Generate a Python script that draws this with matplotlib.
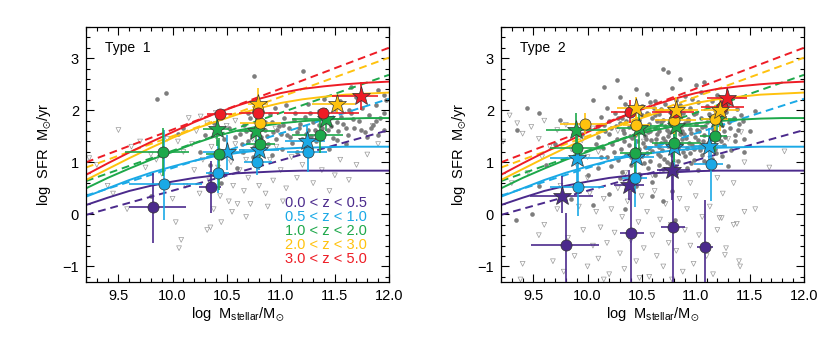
import numpy as np
import matplotlib.pyplot as plt
from matplotlib.ticker import MultipleLocator

plt.rcParams['font.family'] = ['Liberation Sans', 'DejaVu Sans']
plt.rcParams['mathtext.default'] = 'regular'

# ----- redshift bins ---------
zbins = ['0.0 < z < 0.5', '0.5 < z < 1.0', '1.0 < z < 2.0', '2.0 < z < 3.0', '3.0 < z < 5.0']
zcolors = ['#4B2A8C', '#1AA9E6', '#1DA84A', '#FFC20E', '#EE1C25']

# ----- main sequence curves -----------------------------
mass_grid = [9.2, 9.4, 9.6, 9.8, 10.0, 10.2, 10.4, 10.6, 10.8, 11.0, 11.2, 11.4, 11.6, 11.8, 12.0]
ms_solid = [
    [0.18, 0.32, 0.45, 0.55, 0.63, 0.70, 0.75, 0.79, 0.81, 0.83, 0.84, 0.84, 0.84, 0.84, 0.84],
    [0.34, 0.50, 0.66, 0.80, 0.92, 1.03, 1.12, 1.18, 1.23, 1.26, 1.28, 1.29, 1.30, 1.30, 1.30],
    [0.50, 0.70, 0.88, 1.05, 1.20, 1.36, 1.50, 1.61, 1.69, 1.75, 1.79, 1.82, 1.84, 1.85, 1.85],
    [0.66, 0.87, 1.08, 1.28, 1.47, 1.64, 1.78, 1.92, 2.04, 2.14, 2.21, 2.26, 2.30, 2.32, 2.34],
    [0.76, 0.98, 1.19, 1.39, 1.58, 1.77, 1.94, 2.09, 2.22, 2.33, 2.41, 2.46, 2.50, 2.53, 2.55],
]
dash_x = [9.2, 12.0]
ms_dashed = [[-0.01, 1.62], [0.36, 2.22], [0.64, 2.68], [0.90, 3.01], [1.00, 3.20]]

# ----- stacked points: (zbin, marker, x, y, xlo, xhi, ylo, yhi) ---------
pts_type1 = [
    (0, 'o', 9.82, 0.14, 9.60, 10.12, -0.54, 0.79),
    (0, 'o', 10.36, 0.52, 10.24, 10.45, 0.02, 1.02),
    (1, 'o', 9.92, 0.59, 9.60, 10.27, -0.10, 1.62),
    (1, 'o', 10.42, 0.80, 10.31, 10.52, 0.41, 1.43),
    (1, 'o', 10.78, 1.01, 10.66, 10.92, 0.75, 1.35),
    (1, 'o', 11.25, 1.20, 11.06, 11.43, 0.82, 1.59),
    (1, '*', 10.50, 1.19, 10.28, 10.66, 0.86, 1.53),
    (1, '*', 10.80, 1.23, 10.61, 10.98, 0.86, 1.50),
    (1, '*', 11.24, 1.41, 11.04, 11.41, 1.15, 1.70),
    (2, 'o', 9.91, 1.19, 9.56, 10.15, 0.73, 1.66),
    (2, 'o', 10.43, 1.16, 10.31, 10.54, 0.47, 1.46),
    (2, 'o', 10.81, 1.35, 10.68, 10.95, 1.10, 1.60),
    (2, 'o', 11.36, 1.53, 11.10, 11.58, 1.18, 1.94),
    (2, '*', 10.41, 1.64, 10.28, 10.52, 1.31, 1.91),
    (2, '*', 10.77, 1.60, 10.60, 10.95, 1.35, 1.85),
    (2, '*', 11.42, 1.84, 11.10, 11.67, 1.60, 2.05),
    (3, 'o', 10.81, 1.76, 10.62, 11.00, 1.55, 1.90),
    (3, '*', 10.79, 2.12, 10.70, 10.88, 1.78, 2.42),
    (3, '*', 11.52, 2.12, 11.29, 11.69, 1.95, 2.30),
    (4, 'o', 10.44, 1.92, 10.32, 10.55, 1.85, 2.00),
    (4, 'o', 10.79, 1.95, 10.61, 10.98, 1.80, 2.10),
    (4, 'o', 11.39, 1.95, 11.03, 11.72, 1.83, 2.05),
    (4, '*', 11.74, 2.27, 11.47, 11.90, 2.01, 2.55),
]
pts_type2 = [
    (0, 'o', 9.80, -0.58, 9.48, 10.11, -2.0, 0.02),
    (0, 'o', 10.40, -0.35, 10.30, 10.52, -2.0, 0.44),
    (0, 'o', 10.79, -0.25, 10.68, 10.90, -2.0, 0.89),
    (0, 'o', 11.09, -0.63, 11.01, 11.16, -2.0, 0.28),
    (0, '*', 9.76, 0.36, 9.47, 10.05, 0.02, 0.73),
    (0, '*', 10.38, 0.57, 10.24, 10.52, 0.28, 0.86),
    (0, '*', 10.78, 0.85, 10.64, 10.95, 0.28, 1.37),
    (1, 'o', 9.91, 0.52, 9.65, 10.15, -0.04, 1.11),
    (1, 'o', 10.44, 0.70, 10.32, 10.55, 0.15, 1.37),
    (1, 'o', 11.14, 0.97, 10.98, 11.25, 0.25, 1.56),
    (1, '*', 9.90, 1.09, 9.65, 10.18, 0.54, 1.56),
    (1, '*', 10.45, 1.11, 10.24, 10.61, 0.70, 1.45),
    (1, '*', 10.80, 1.30, 10.55, 11.10, 0.90, 1.60),
    (1, '*', 11.12, 1.32, 10.98, 11.29, 1.00, 1.65),
    (2, 'o', 9.90, 1.28, 9.65, 10.16, 1.00, 1.55),
    (2, 'o', 10.44, 1.17, 10.30, 10.60, 0.80, 1.50),
    (2, 'o', 10.80, 1.37, 10.60, 11.05, 1.00, 1.70),
    (2, 'o', 11.18, 1.50, 11.04, 11.29, 1.20, 1.80),
    (2, '*', 9.89, 1.63, 9.62, 10.18, 1.24, 1.94),
    (2, '*', 10.48, 1.65, 10.27, 10.67, 1.20, 2.00),
    (2, '*', 10.82, 1.70, 10.55, 11.10, 1.40, 2.00),
    (2, '*', 11.20, 1.83, 11.04, 11.38, 1.50, 2.10),
    (3, 'o', 9.98, 1.74, 9.75, 10.18, 1.55, 1.95),
    (3, 'o', 10.45, 1.72, 10.33, 10.58, 1.50, 1.90),
    (3, 'o', 10.80, 1.81, 10.62, 11.00, 1.55, 2.00),
    (3, 'o', 11.18, 1.84, 11.05, 11.30, 1.50, 2.10),
    (4, 'o', 10.39, 1.96, 10.22, 10.48, 1.75, 2.20),
    (4, 'o', 10.81, 1.97, 10.60, 10.98, 1.85, 2.10),
    (4, 'o', 11.24, 2.06, 11.05, 11.45, 1.90, 2.20),
    (3, '*', 10.45, 2.04, 10.27, 10.64, 1.80, 2.25),
    (3, '*', 10.82, 2.01, 10.62, 11.02, 1.75, 2.25),
    (3, '*', 11.22, 2.01, 11.05, 11.40, 1.60, 2.30),
    (4, '*', 11.29, 2.23, 11.10, 11.47, 2.00, 2.45),
]

# ----- individual sources (gray dots = detections, triangles = upper limits) ---------
det_type1 = [
    (10.62, 1.55), (10.66, 1.72), (10.70, 1.40), (10.72, 1.85), (10.75, 1.30), (10.78, 1.62),
    (10.82, 1.48), (10.85, 1.78), (10.88, 1.35), (10.90, 1.92), (10.93, 1.58), (10.96, 1.45),
    (10.98, 1.70), (11.01, 1.25), (11.03, 1.85), (11.06, 1.52), (11.08, 1.66), (11.10, 1.38),
    (11.13, 1.95), (11.15, 1.58), (11.18, 1.74), (11.20, 1.45), (11.22, 1.88), (11.25, 1.62),
    (11.28, 1.50), (11.30, 1.78), (11.33, 1.40), (11.35, 1.98), (11.38, 1.66), (11.40, 1.55),
    (11.43, 1.82), (11.46, 1.70), (11.48, 1.46), (11.50, 2.02), (11.53, 1.60), (11.56, 1.88),
    (11.58, 1.74), (11.62, 1.52), (11.65, 1.95), (11.68, 1.66), (11.72, 1.80), (11.75, 2.05),
    (11.78, 1.58), (11.82, 1.90), (11.85, 1.72), (11.88, 2.10), (11.92, 1.85), (11.95, 1.62),
    (11.97, 2.20), (11.70, 2.25), (11.55, 2.18), (11.40, 2.22), (11.25, 2.12), (11.05, 2.10),
    (10.95, 2.05), (10.80, 2.00), (10.70, 1.95), (11.60, 1.35), (11.45, 1.25), (11.15, 1.20),
    (10.92, 1.15), (10.85, 1.62), (11.00, 1.55), (11.12, 1.82), (11.35, 1.72), (10.45, 1.85),
    (10.38, 1.75), (10.52, 1.65), (10.58, 1.48), (10.30, 1.52), (10.48, 1.45), (10.10, 1.66),
    (10.05, 1.55), (10.25, 1.20), (10.35, 0.95), (9.86, 2.22), (9.94, 2.33), (10.75, 2.66),
    (11.21, 2.76), (11.65, 2.45), (11.90, 2.38), (10.35, 0.80), (9.80, 0.35), (10.45, 0.60),
    (10.60, 0.90), (11.95, 2.30), (10.65, 1.20), (10.74, 1.10), (11.52, 1.42), (11.80, 1.48),
    (10.64, 1.35), (10.68, 1.60), (10.73, 1.52), (10.80, 1.38), (10.87, 1.50), (10.97, 1.62),
    (11.02, 1.72), (11.09, 1.48), (11.17, 1.66), (11.23, 1.55), (11.32, 1.62), (11.37, 1.85),
    (11.44, 1.62), (11.52, 1.78), (11.60, 1.65), (11.67, 1.84), (11.74, 1.62), (11.83, 1.66),
    (11.90, 1.52), (11.95, 1.95), (11.88, 1.80), (11.63, 2.00), (11.27, 1.95), (10.92, 1.78),
]
lim_type1 = [
    (9.23, 1.08), (9.30, 0.95), (9.40, 0.55), (9.50, 1.62), (9.62, 1.30), (9.70, 1.40),
    (9.75, 0.90), (9.58, 0.10), (9.85, 1.05), (9.90, 0.78), (9.95, 1.45), (10.00, 0.30),
    (10.03, -0.15), (10.06, -0.65), (10.08, -0.49), (10.10, 1.20), (10.12, 0.55), (10.15, 1.85),
    (10.18, 1.35), (10.20, 0.85), (10.22, 1.60), (10.25, 0.40), (10.28, 1.05), (10.32, -0.30),
    (10.32, 1.75), (10.34, 0.65), (10.36, 1.30), (10.38, 0.10), (10.40, 1.50), (10.42, 0.90),
    (10.44, 0.35), (10.46, 1.15), (10.48, 0.75), (10.50, 1.70), (10.52, 0.25), (10.54, 1.00),
    (10.56, 0.55), (10.58, 1.35), (10.60, 0.20), (10.62, 0.85), (10.64, 1.20), (10.66, 0.45),
    (10.68, 1.05), (10.70, 0.70), (10.72, 0.20), (10.74, 1.45), (10.77, 0.95), (10.80, 0.55),
    (10.83, 1.25), (10.86, 0.40), (10.90, 1.05), (10.93, 0.65), (10.96, 1.30), (11.00, 0.85),
    (11.05, 0.50), (11.10, 1.10), (11.15, 0.70), (11.20, 0.95), (11.25, 1.25), (11.30, 0.60),
    (11.38, 0.85), (11.45, 0.45), (11.55, 1.05), (11.63, 0.66), (11.70, 0.95), (11.80, 1.15),
    (11.90, 1.35), (11.50, 0.75), (10.35, -0.25), (10.45, -0.15), (10.55, 0.05), (10.68, -0.05),
    (10.88, 0.15), (11.02, 0.25), (9.45, 0.40), (9.80, 1.15), (10.05, 1.40), (10.26, 1.88),
    (10.40, 1.95), (10.58, 1.80), (10.95, 1.65), (11.85, 1.70),
]
det_type2 = [
    (10.30, 2.25), (10.55, 2.32), (10.62, 2.18), (10.90, 2.28), (11.05, 2.35), (10.45, 2.40),
    (10.78, 2.42), (11.20, 2.30), (10.18, 2.05), (10.35, 2.12), (10.50, 2.08), (10.58, 2.15),
    (10.68, 2.02), (10.72, 2.12), (10.85, 2.10), (10.95, 2.05), (11.02, 2.16), (11.10, 2.08),
    (11.30, 2.12), (11.38, 2.02), (10.42, 2.00), (11.18, 2.00), (10.12, 1.88), (10.25, 1.95),
    (10.32, 1.85), (10.40, 1.92), (10.48, 1.82), (10.55, 1.95), (10.60, 1.86), (10.66, 1.92),
    (10.70, 1.82), (10.76, 1.96), (10.82, 1.88), (10.88, 1.94), (10.93, 1.84), (10.98, 1.92),
    (11.05, 1.86), (11.12, 1.93), (11.22, 1.88), (11.28, 1.96), (11.35, 1.85), (11.42, 1.90),
    (10.36, 1.80), (10.64, 1.80), (10.15, 1.72), (10.22, 1.65), (10.30, 1.75), (10.38, 1.68),
    (10.44, 1.76), (10.52, 1.62), (10.57, 1.74), (10.62, 1.66), (10.68, 1.78), (10.73, 1.63),
    (10.78, 1.72), (10.84, 1.66), (10.90, 1.76), (10.95, 1.64), (11.00, 1.73), (11.06, 1.67),
    (11.10, 1.78), (11.16, 1.64), (11.24, 1.72), (11.32, 1.66), (11.40, 1.74), (10.48, 1.70),
    (10.66, 1.60), (10.87, 1.61), (11.03, 1.61), (10.10, 1.48), (10.20, 1.55), (10.27, 1.45),
    (10.34, 1.56), (10.41, 1.46), (10.47, 1.58), (10.53, 1.50), (10.59, 1.42), (10.64, 1.55),
    (10.70, 1.47), (10.75, 1.58), (10.80, 1.44), (10.85, 1.54), (10.91, 1.46), (10.96, 1.56),
    (11.02, 1.43), (11.08, 1.52), (11.14, 1.45), (11.20, 1.57), (11.27, 1.48), (11.36, 1.53),
    (11.45, 1.45), (10.56, 1.58), (10.72, 1.40), (10.99, 1.49), (10.14, 1.28), (10.23, 1.36),
    (10.31, 1.25), (10.38, 1.33), (10.45, 1.22), (10.51, 1.38), (10.57, 1.27), (10.63, 1.35),
    (10.69, 1.24), (10.74, 1.32), (10.79, 1.22), (10.86, 1.36), (10.92, 1.27), (10.97, 1.34),
    (11.04, 1.24), (11.11, 1.37), (11.18, 1.26), (11.26, 1.33), (11.33, 1.23), (10.66, 1.30),
    (10.88, 1.20), (10.18, 1.10), (10.28, 1.05), (10.36, 1.15), (10.43, 1.03), (10.50, 1.12),
    (10.58, 1.02), (10.65, 1.16), (10.71, 1.06), (10.78, 1.14), (10.84, 1.02), (10.90, 1.12),
    (10.98, 1.04), (11.06, 1.15), (11.15, 1.06), (11.24, 1.12), (10.55, 1.18), (10.95, 1.18),
    (10.22, 0.92), (10.32, 0.82), (10.40, 0.95), (10.48, 0.78), (10.56, 0.90), (10.62, 0.75),
    (10.70, 0.88), (10.76, 0.96), (10.82, 0.80), (10.92, 0.90), (11.02, 0.85), (11.12, 0.94),
    (10.30, 0.70), (10.60, 0.62), (10.45, 0.55), (9.44, 2.04), (9.55, 1.95), (9.35, 1.62),
    (9.34, -0.10), (9.49, 0.00), (9.55, 0.54), (9.62, 0.95), (9.70, 1.35), (9.75, 1.82),
    (10.05, 2.20), (10.15, 2.45), (10.27, 2.58), (10.70, 2.80), (10.74, 2.74), (10.85, 2.60),
    (11.00, 2.48), (11.08, 2.55), (11.55, 1.98), (11.50, 1.60), (9.85, 0.30), (10.00, 0.75),
    (10.05, 0.18), (9.95, 1.55), (10.08, 1.35), (11.30, 0.92), (11.45, 1.20), (10.20, 0.40),
    (10.10, 0.90), (10.78, 0.44), (10.81, -0.10), (10.70, 0.25), (10.35, 0.10), (10.60, 0.35),
    (10.26, 1.70), (10.33, 1.62), (10.39, 1.50), (10.46, 1.40), (10.53, 1.30), (10.60, 1.22),
    (10.67, 1.12), (10.73, 1.00), (10.80, 1.58), (10.86, 1.70), (10.93, 1.80), (11.00, 1.95),
    (11.07, 1.40), (11.13, 1.30), (11.19, 1.18), (11.26, 1.60), (11.31, 1.78), (10.50, 1.90),
    (10.61, 2.05), (10.82, 2.20), (10.97, 2.22), (11.15, 2.18), (10.24, 1.20), (10.40, 1.10),
    (10.52, 0.98), (10.66, 0.95), (10.81, 0.92), (10.96, 0.98), (11.08, 1.02), (10.34, 1.40),
    (10.44, 1.52), (10.58, 1.60), (10.72, 1.70), (10.77, 1.85), (10.89, 1.55), (11.01, 1.62),
    (11.09, 1.70), (11.17, 1.82), (11.23, 1.40), (10.63, 1.45), (10.68, 1.38), (10.74, 1.50),
    (10.84, 1.28), (10.94, 1.38), (11.04, 1.32), (10.28, 1.85), (10.20, 1.80), (10.16, 1.60),
    (10.12, 1.10), (10.10, 1.70), (11.39, 1.62), (11.44, 1.80), (11.36, 1.40), (10.54, 1.45),
    (10.48, 1.25), (10.42, 1.65), (10.37, 1.95), (10.62, 1.90), (10.87, 1.45), (10.98, 1.25),
]
lim_type2 = [
    (9.22, 1.40), (9.28, 1.90), (9.35, 1.75), (9.40, 1.55), (9.48, 1.68), (9.55, 1.45),
    (9.60, 1.80), (9.65, 1.30), (9.72, 1.62), (9.80, 1.72), (9.85, 1.25), (9.95, 1.42),
    (10.00, 1.10), (10.05, 1.65), (9.58, 1.10), (9.45, 0.80), (9.30, 0.60), (9.60, -0.20),
    (9.68, -0.90), (9.72, 0.10), (9.78, -1.10), (9.82, -0.45), (9.88, -0.80), (9.92, 0.15),
    (9.96, -0.30), (10.00, -1.00), (10.02, 0.40), (10.05, -0.60), (10.08, 0.05), (10.10, -0.85),
    (10.12, -0.25), (10.15, 0.30), (10.18, -0.55), (10.20, -1.15), (10.22, 0.10), (10.25, -0.35),
    (10.28, 0.50), (10.30, -0.75), (10.32, -0.05), (10.34, -1.05), (10.37, 0.25), (10.40, -0.50),
    (10.42, 0.65), (10.45, -0.90), (10.47, -0.15), (10.50, 0.35), (10.52, -0.65), (10.55, 0.05),
    (10.57, -1.20), (10.60, -0.40), (10.62, 0.45), (10.64, -0.80), (10.67, -0.10), (10.70, -1.00),
    (10.72, 0.20), (10.75, -0.55), (10.77, -0.20), (10.82, -0.70), (10.85, 0.30), (10.88, -1.10),
    (10.90, -0.30), (10.92, 0.10), (10.95, -0.60), (10.98, -0.95), (11.00, 0.35), (11.03, -0.40),
    (11.06, -0.05), (11.10, -0.80), (11.13, 0.15), (11.16, -1.15), (11.20, -0.30), (11.25, 0.40),
    (11.28, -0.65), (11.35, -0.20), (11.40, -0.90), (11.45, 0.05), (11.55, 0.10), (11.68, 0.90),
    (11.35, 0.60), (9.40, -0.95), (9.55, -0.40), (10.00, 0.70), (10.35, 0.80), (10.60, 0.75),
    (10.95, 0.60), (11.20, 0.70), (11.45, 1.00), (9.75, 0.55), (9.90, 0.95), (10.10, 1.20),
    (10.28, 1.60), (10.52, 1.40), (10.80, 1.00), (11.05, 1.25), (11.30, 1.45), (11.42, 1.58),
    (9.38, -1.25), (10.15, -1.25), (10.48, -1.22), (10.78, -1.25), (11.22, -0.07), (11.38, -0.18),
    (11.27, -0.78), (11.82, 1.21), (11.24, -0.07), (11.41, -1.00),
]


def style_axes(ax):
    ax.set_xlim(9.2, 12.0)
    ax.set_ylim(-1.3, 3.6)
    ax.xaxis.set_major_locator(MultipleLocator(0.5))
    ax.xaxis.set_minor_locator(MultipleLocator(0.1))
    ax.yaxis.set_major_locator(MultipleLocator(1))
    ax.yaxis.set_minor_locator(MultipleLocator(0.2))
    ax.xaxis.set_major_formatter(plt.FormatStrFormatter('%.1f'))
    ax.tick_params(which='both', direction='in', top=True, right=True, labelsize=10.5, width=0.8)
    ax.tick_params(which='major', length=6, pad=5)
    ax.tick_params(which='minor', length=3)
    for s in ax.spines.values():
        s.set_linewidth(0.9)
    ax.set_xlabel(r'log  M$_{stellar}$/M$_{\odot}$', fontsize=10.5, labelpad=2)
    ax.set_ylabel(r'log  SFR  M$_{\odot}$/yr', fontsize=10.5, labelpad=6)


def draw_panel(ax, det, lim, pts, title):
    d = np.array(det)
    l = np.array(lim)
    ax.scatter(l[:, 0], l[:, 1], marker='v', s=12, facecolors='none',
               edgecolors='#9a9a9a', linewidths=0.5, zorder=1)
    ax.scatter(d[:, 0], d[:, 1], marker='o', s=11, color='#7d7d7d', lw=0, zorder=1)
    for i, c in enumerate(zcolors):
        ax.plot(mass_grid, ms_solid[i], color=c, lw=1.4, zorder=2)
        ax.plot(dash_x, ms_dashed[i], color=c, lw=1.4, ls=(0, (4, 2.5)), zorder=2)
    for zi, mk, x, y, xlo, xhi, ylo, yhi in pts:
        c = zcolors[zi]
        ax.errorbar(x, y, xerr=[[x - xlo], [xhi - x]], yerr=[[y - ylo], [yhi - y]],
                    fmt='none', ecolor=c, elinewidth=1.2, capsize=0, zorder=3)
        ms = 8 if mk == 'o' else 14
        ax.plot(x, y, marker=mk, ms=ms, color=c, mec='#333333', mew=0.5, ls='none', zorder=4)
    ax.text(9.38, 3.2, title, fontsize=10, va='center', ha='left')
    style_axes(ax)


fig = plt.figure(figsize=(8.3, 3.37), dpi=100)
ax1 = fig.add_axes([0.1036, 0.163, 0.365, 0.757])
ax2 = fig.add_axes([0.6036, 0.163, 0.365, 0.757])

draw_panel(ax1, det_type1, lim_type1, pts_type1, 'Type  1')
draw_panel(ax2, det_type2, lim_type2, pts_type2, 'Type  2')

# legend text in the first panel
for i, (lab, c) in enumerate(zip(zbins, zcolors)):
    ax1.text(11.04, 0.22 - 0.27 * i, lab, color=c, fontsize=10.5,
             va='center', ha='left')

fig.savefig('out.png', dpi=100)
